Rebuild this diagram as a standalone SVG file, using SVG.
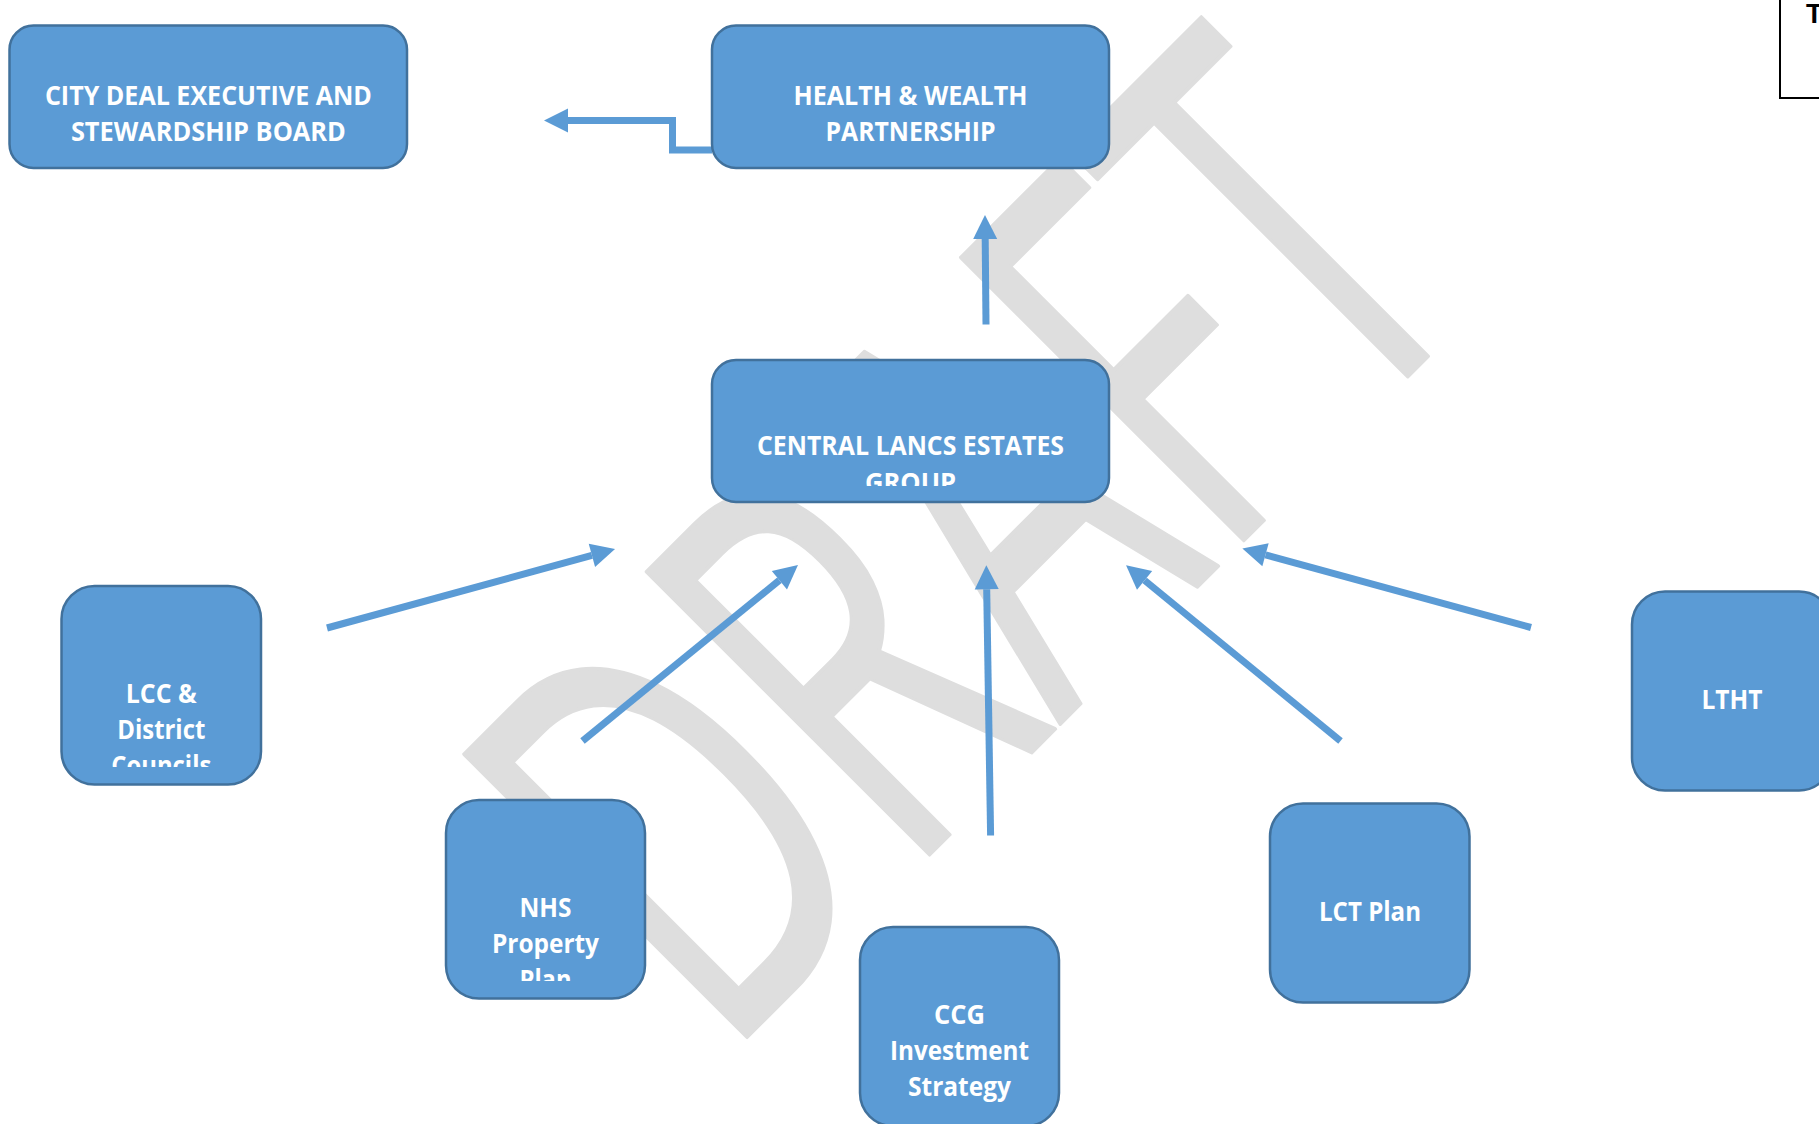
<svg xmlns="http://www.w3.org/2000/svg" width="1819" height="1124" viewBox="0 0 1819 1124">
<style>
.box{fill:#5b9bd5;stroke:#41719c;stroke-width:2.5}
.lbl{font-family:"Open Sans","Liberation Sans",sans-serif;font-weight:bold;font-size:26.5px;fill:#ffffff;text-anchor:middle}
.conn{fill:none;stroke:#5b9bd5;stroke-width:7;stroke-linejoin:miter}
.wm{font-family:"Open Sans","Liberation Sans",sans-serif;font-size:560px;fill:#dedede;stroke:#dedede;stroke-width:4;stroke-linejoin:round}
</style>
<defs>
<marker id="ah" markerUnits="userSpaceOnUse" markerWidth="26" markerHeight="26" refX="0" refY="12" orient="auto" viewBox="0 0 26 24" overflow="visible">
<path d="M0,0 L24,12 L0,24 z" fill="#5b9bd5"/>
</marker>
<clipPath id="cpCentral"><rect x="712" y="360" width="397" height="126"/></clipPath>
<clipPath id="cpLCC"><rect x="61" y="586" width="200" height="181"/></clipPath>
<clipPath id="cpNHS"><rect x="446" y="800" width="199" height="181"/></clipPath>
</defs>
<rect width="1819" height="1124" fill="#ffffff"/>
<g id="watermark">
<text class="wm" transform="translate(722,1062) rotate(-45)" textLength="1082" lengthAdjust="spacingAndGlyphs">DRAFT</text>
</g>
<g id="connectors">
<path class="conn" d="M712,150 H672.5 V120.5 H568" marker-end="url(#ah)"/>
<path class="conn" d="M986,324.5 L985.2,239" marker-end="url(#ah)"/>
<path class="conn" d="M327,628 L591.9,555.4" marker-end="url(#ah)"/>
<path class="conn" d="M582.5,741 L779.4,580.2" marker-end="url(#ah)"/>
<path class="conn" d="M990.6,835.5 L986.7,589.3" marker-end="url(#ah)"/>
<path class="conn" d="M1340.5,741 L1144.6,580.4" marker-end="url(#ah)"/>
<path class="conn" d="M1531,627.5 L1265.5,554.8" marker-end="url(#ah)"/>
</g>
<g id="city-deal">
<rect class="box" x="9.5" y="25.5" width="397.5" height="142.5" rx="24"/>
<text class="lbl" x="208.4" y="105" textLength="327" lengthAdjust="spacingAndGlyphs">CITY DEAL EXECUTIVE AND</text>
<text class="lbl" x="208.4" y="141" textLength="275" lengthAdjust="spacingAndGlyphs">STEWARDSHIP BOARD</text>
</g>
<g id="health-wealth">
<rect class="box" x="712" y="25.5" width="397" height="142.5" rx="24"/>
<text class="lbl" x="910.5" y="105" textLength="234" lengthAdjust="spacingAndGlyphs">HEALTH &amp; WEALTH</text>
<text class="lbl" x="910.5" y="141" textLength="170" lengthAdjust="spacingAndGlyphs">PARTNERSHIP</text>
</g>
<g id="central-lancs">
<rect class="box" x="712" y="360" width="397" height="142" rx="24"/>
<g clip-path="url(#cpCentral)">
<text class="lbl" x="910.5" y="455" textLength="307" lengthAdjust="spacingAndGlyphs">CENTRAL LANCS ESTATES</text>
<text class="lbl" x="910.5" y="492" textLength="91" lengthAdjust="spacingAndGlyphs">GROUP</text>
</g>
</g>
<g id="lcc">
<rect class="box" x="61.5" y="586" width="199.5" height="198.5" rx="33"/>
<g clip-path="url(#cpLCC)">
<text class="lbl" x="161.3" y="703" textLength="71" lengthAdjust="spacingAndGlyphs">LCC &amp;</text>
<text class="lbl" x="161.3" y="739" textLength="88" lengthAdjust="spacingAndGlyphs">District</text>
<text class="lbl" x="161.3" y="775" textLength="100" lengthAdjust="spacingAndGlyphs">Councils</text>
</g>
</g>
<g id="nhs">
<rect class="box" x="446" y="800" width="199" height="198.5" rx="33"/>
<g clip-path="url(#cpNHS)">
<text class="lbl" x="545.5" y="917" textLength="52" lengthAdjust="spacingAndGlyphs">NHS</text>
<text class="lbl" x="545.5" y="953" textLength="107" lengthAdjust="spacingAndGlyphs">Property</text>
<text class="lbl" x="545.5" y="989" textLength="52" lengthAdjust="spacingAndGlyphs">Plan</text>
</g>
</g>
<g id="ccg">
<rect class="box" x="860" y="927" width="199" height="199" rx="33"/>
<text class="lbl" x="959.5" y="1024" textLength="51" lengthAdjust="spacingAndGlyphs">CCG</text>
<text class="lbl" x="959.5" y="1060" textLength="139" lengthAdjust="spacingAndGlyphs">Investment</text>
<text class="lbl" x="959.5" y="1096" textLength="103" lengthAdjust="spacingAndGlyphs">Strategy</text>
</g>
<g id="lct">
<rect class="box" x="1270" y="803.5" width="199.5" height="199" rx="33"/>
<text class="lbl" x="1370" y="921" textLength="102" lengthAdjust="spacingAndGlyphs">LCT Plan</text>
</g>
<g id="ltht">
<rect class="box" x="1632" y="591.5" width="200" height="199" rx="33"/>
<text class="lbl" x="1732" y="709" textLength="61" lengthAdjust="spacingAndGlyphs">LTHT</text>
</g>
<g id="corner-box">
<rect x="1780" y="-5" width="60" height="103" fill="none" stroke="#000000" stroke-width="2"/>
<text x="1806" y="23" font-family="Liberation Sans, Arial, sans-serif" font-weight="bold" font-size="27" fill="#000000">T</text>
</g>
</svg>
